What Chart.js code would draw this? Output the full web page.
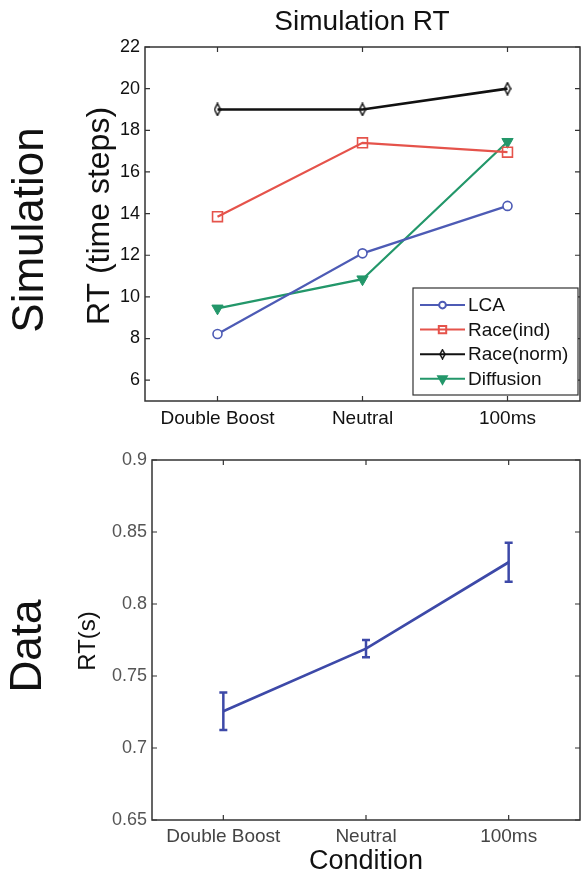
<!DOCTYPE html>
<html>
<head>
<meta charset="utf-8">
<script src="https://cdn.jsdelivr.net/npm/chart.js@4.4.1/dist/chart.umd.min.js"></script>
<style>
  body { margin: 0; background: #fff; }
  #wrap { position: relative; width: 581px; height: 875px; }
  #simChart { position: absolute; left: 0; top: 0; }
  #dataChart { position: absolute; left: 0; top: 440px; }
</style>
</head>
<body>
<div id="wrap">
  <canvas id="simChart" width="581" height="440"></canvas>
  <canvas id="dataChart" width="581" height="435"></canvas>
</div>
<script>
const conditions = ["Double Boost", "Neutral", "100ms"];

// simulation RT (time steps)
const lcaRT = [8.22, 12.09, 14.37];
const raceIndRT = [13.85, 17.4, 16.95];
const raceNormRT = [19.0, 19.0, 20.0];
const diffusionRT = [9.45, 10.85, 17.45];
const simTicks = [6, 8, 10, 12, 14, 16, 18, 20, 22];

// observed RT (s) with error bars
const dataRT = [0.7255, 0.769, 0.829];
const dataErr = [0.013, 0.006, 0.0135];
const dataTicks = [0.65, 0.7, 0.75, 0.8, 0.85, 0.9];

const FONT = "'Liberation Sans', Arial, Helvetica, sans-serif";

// narrow diamond like the matlab marker
function diamondMarker(w, h, color) {
  const c = document.createElement("canvas");
  c.width = w + 2; c.height = h + 2;
  const g = c.getContext("2d");
  g.strokeStyle = color; g.lineWidth = 1.5;
  g.beginPath();
  g.moveTo(c.width / 2, 1); g.lineTo(c.width - 1, c.height / 2);
  g.lineTo(c.width / 2, c.height - 1); g.lineTo(1, c.height / 2);
  g.closePath(); g.stroke();
  return c;
}

// keep the plot box exactly where the scale sizes put it
function fixX(h) {
  return s => { s.height = h; s.paddingLeft = 0; s.paddingRight = 0; };
}
function fixY(w) {
  return s => { s.width = w; s.paddingTop = 0; s.paddingBottom = 0; };
}

const framePlugin = {
  id: "frame",
  beforeDatasetsDraw(chart) {
    const { ctx, chartArea: a, scales } = chart;
    ctx.save();
    ctx.strokeStyle = "#333";
    ctx.lineWidth = 1.5;
    ctx.strokeRect(a.left, a.top, a.right - a.left, a.bottom - a.top);
    ctx.lineWidth = 1.2;
    const len = 5;
    ctx.beginPath();
    scales.x.ticks.forEach((t, i) => {
      const x = scales.x.getPixelForTick(i);
      ctx.moveTo(x, a.bottom); ctx.lineTo(x, a.bottom - len);
      ctx.moveTo(x, a.top); ctx.lineTo(x, a.top + len);
    });
    scales.y.ticks.forEach((t, i) => {
      const y = scales.y.getPixelForTick(i);
      ctx.moveTo(a.left, y); ctx.lineTo(a.left + len, y);
      ctx.moveTo(a.right, y); ctx.lineTo(a.right - len, y);
    });
    ctx.stroke();
    ctx.restore();
  }
};

const labelsPlugin = {
  id: "labels",
  afterDraw(chart, args, opts) {
    const ctx = chart.ctx;
    (opts.items || []).forEach(it => {
      ctx.save();
      ctx.fillStyle = it.color || "#111";
      ctx.font = it.font;
      ctx.textAlign = "center";
      ctx.textBaseline = "middle";
      ctx.translate(it.x, it.y);
      if (it.rotate) ctx.rotate(-Math.PI / 2);
      ctx.fillText(it.text, 0, 0);
      ctx.restore();
    });
  }
};

const legendBoxPlugin = {
  id: "legendBox",
  afterDatasetsDraw(chart) {
    const { ctx, chartArea: a } = chart;
    const w = 165, h = 107;
    const left = a.right - 2 - w, top = a.bottom - 6 - h;
    ctx.save();
    ctx.fillStyle = "#fff";
    ctx.fillRect(left, top, w, h);
    ctx.strokeStyle = "#333";
    ctx.lineWidth = 1.2;
    ctx.strokeRect(left, top, w, h);
    ctx.font = "19px " + FONT;
    ctx.textBaseline = "middle";
    chart.data.datasets.forEach((ds, i) => {
      const y = top + 17 + i * 24.6;
      ctx.strokeStyle = ds.borderColor;
      ctx.lineWidth = 2;
      ctx.beginPath(); ctx.moveTo(left + 7, y); ctx.lineTo(left + 52, y); ctx.stroke();
      const cx = left + 29.5;
      if (ds.pointStyle instanceof HTMLCanvasElement) {
        const img = ds.legendMarker;
        ctx.drawImage(img, cx - img.width / 2, y - img.height / 2);
      } else {
        ctx.fillStyle = ds.pointBackgroundColor;
        ctx.strokeStyle = ds.borderColor;
        Chart.helpers.drawPoint(ctx, {
          pointStyle: ds.pointStyle, radius: ds.pointRadius * 0.75,
          rotation: ds.pointRotation || 0, borderWidth: 1.2
        }, cx, y);
      }
      ctx.fillStyle = "#111";
      ctx.fillText(ds.label, left + 55, y + 1);
    });
    ctx.restore();
  }
};

const errorBarPlugin = {
  id: "errorBars",
  afterDatasetsDraw(chart) {
    const { ctx, scales } = chart;
    const meta = chart.getDatasetMeta(0);
    ctx.save();
    ctx.strokeStyle = "#3d49a8";
    ctx.lineWidth = 2.5;
    ctx.beginPath();
    meta.data.forEach((pt, i) => {
      const v = dataRT[i], e = dataErr[i];
      const y1 = scales.y.getPixelForValue(v + e);
      const y2 = scales.y.getPixelForValue(v - e);
      ctx.moveTo(pt.x, y1); ctx.lineTo(pt.x, y2);
      ctx.moveTo(pt.x - 4, y1); ctx.lineTo(pt.x + 4, y1);
      ctx.moveTo(pt.x - 4, y2); ctx.lineTo(pt.x + 4, y2);
    });
    ctx.stroke();
    ctx.restore();
  }
};

const normMarker = diamondMarker(6, 12, "#111");
const normLegendMarker = diamondMarker(5, 9, "#111");

new Chart(document.getElementById("simChart"), {
  type: "line",
  data: {
    labels: conditions,
    datasets: [
      { label: "LCA", data: lcaRT, borderColor: "#4d5bb5", borderWidth: 2.2,
        pointStyle: "circle", pointRadius: 4.5, pointBorderWidth: 1.6,
        pointBackgroundColor: "#fff" },
      { label: "Race(ind)", data: raceIndRT, borderColor: "#e5534b", borderWidth: 2.2,
        pointStyle: "rect", pointRadius: 7, pointBorderWidth: 1.6,
        pointBackgroundColor: "rgba(255,255,255,0)" },
      { label: "Race(norm)", data: raceNormRT, borderColor: "#111", borderWidth: 2.6,
        pointStyle: normMarker, legendMarker: normLegendMarker, pointRadius: 5,
        pointBackgroundColor: "#fff" },
      { label: "Diffusion", data: diffusionRT, borderColor: "#23976a", borderWidth: 2.2,
        pointStyle: "triangle", pointRotation: 180, pointRadius: 6.5, pointBorderWidth: 1,
        pointBackgroundColor: "#23976a" }
    ]
  },
  options: {
    responsive: false,
    animation: false,
    layout: { autoPadding: false, padding: { left: 0, top: 47, right: 1, bottom: 0 } },
    plugins: {
      legend: { display: false },
      tooltip: { enabled: false },
      labels: {
        items: [
          { text: "Simulation RT", font: "28px " + FONT, x: 362, y: 22 },
          { text: "Simulation", font: "44px " + FONT, x: 31, y: 230, rotate: true },
          { text: "RT (time steps)", font: "32px " + FONT, x: 100, y: 216, rotate: true }
        ]
      }
    },
    scales: {
      x: {
        offset: true,
        grid: { display: false, drawTicks: false },
        border: { display: false },
        ticks: { font: { family: FONT, size: 19 }, color: "#111", padding: 6, maxRotation: 0 },
        afterFit: fixX(39)
      },
      y: {
        min: 5, max: 22,
        grid: { display: false, drawTicks: false },
        border: { display: false },
        ticks: { font: { family: FONT, size: 18 }, color: "#111", padding: 5 },
        afterBuildTicks: s => { s.ticks = simTicks.map(v => ({ value: v })); },
        afterFit: fixY(145)
      }
    }
  },
  plugins: [framePlugin, legendBoxPlugin, labelsPlugin]
});

new Chart(document.getElementById("dataChart"), {
  type: "line",
  data: {
    labels: conditions,
    datasets: [
      { label: "Data", data: dataRT, borderColor: "#3d49a8", borderWidth: 2.7,
        pointRadius: 0 }
    ]
  },
  options: {
    responsive: false,
    animation: false,
    layout: { autoPadding: false, padding: { left: 0, top: 20, right: 1, bottom: 0 } },
    plugins: {
      legend: { display: false },
      tooltip: { enabled: false },
      labels: {
        items: [
          { text: "Data", font: "44px " + FONT, x: 29, y: 206, rotate: true },
          { text: "RT(s)", font: "24px " + FONT, x: 88, y: 201, rotate: true },
          { text: "Condition", font: "27px " + FONT, x: 366, y: 422 }
        ]
      }
    },
    scales: {
      x: {
        offset: true,
        grid: { display: false, drawTicks: false },
        border: { display: false },
        ticks: { font: { family: FONT, size: 19 }, color: "#444", padding: 5, maxRotation: 0 },
        afterFit: fixX(55)
      },
      y: {
        min: 0.65, max: 0.9,
        grid: { display: false, drawTicks: false },
        border: { display: false },
        ticks: { font: { family: FONT, size: 18 }, color: "#555", padding: 5,
                 callback: v => String(Math.round(v * 100) / 100) },
        afterBuildTicks: s => { s.ticks = dataTicks.map(v => ({ value: v })); },
        afterFit: fixY(152)
      }
    }
  },
  plugins: [framePlugin, errorBarPlugin, labelsPlugin]
});
</script>
</body>
</html>
